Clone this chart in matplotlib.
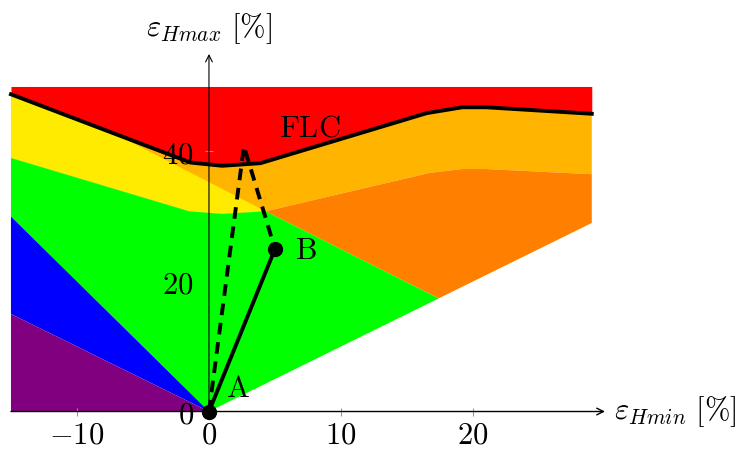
import matplotlib

matplotlib.use("Agg")

import matplotlib.pyplot as plt

plt.rcParams["mathtext.fontset"] = "cm"
plt.rcParams["font.family"] = "serif"
plt.rcParams["font.serif"] = ["DejaVu Serif"]

# forming limit curve
flc_x = [-15, -1.4, 1.0, 3.9, 16.5, 19.2, 21.0, 29]
flc_y = [48.8, 38.3, 37.8, 38.2, 45.9, 46.8, 46.8, 45.8]

# lower edge of the amber band (top of orange zone)
amber_low_x = [4.3, 16.7, 19.2, 21.0, 29]
amber_low_y = [30.8, 36.7, 37.3, 37.3, 36.5]

# top edge of the green (safe) zone
green_top_x = [-15, -1.5, 1.0, 4.3]
green_top_y = [39.0, 30.8, 30.4, 30.8]

# yellow zone: FLC part, then edge down to the green top
yellow_x = [-15, -7.5, 4.3]
yellow_y = [48.8, 43.1, 30.8]

# green / orange / white meeting point and right corner of orange zone
meet_x, meet_y = 17.4, 17.4
corner_x, corner_y = 29, 29

# wrinkle zones on the left edge
blue_top = 30
purple_top = 15

x_left, x_right, y_top = -15, 29, 50

# strain paths
path_x = [0, 5]
path_y = [0, 25]
dash_x = [0, 2.65, 5]
dash_y = [0, 40.8, 25]

x_ticks = [-10, 0, 10, 20]
y_ticks = [0, 20, 40]

RED = "#ff0000"
AMBER = "#ffb400"
YELLOW = "#ffeb00"
ORANGE = "#ff8000"
GREEN = "#00ff00"
BLUE = "#0000ff"
PURPLE = "#800080"

FS = 22


def main():
    fig = plt.figure(figsize=(7.49, 4.5), dpi=100)
    ax = fig.add_axes([0, 0, 1, 1])
    ax.set_xlim(-15.83, 40.91)
    ax.set_ylim(-5.92, 63.3)

    # red above the FLC
    ax.fill_between(flc_x, flc_y, y_top, color=RED, lw=0, zorder=1)

    # amber band below the FLC
    amber_poly_x = flc_x + amber_low_x[::-1] + green_top_x[::-1]
    amber_poly_y = flc_y + amber_low_y[::-1] + green_top_y[::-1]
    ax.fill(amber_poly_x, amber_poly_y, color=AMBER, lw=0, zorder=1)

    # yellow band on the left
    ax.fill(yellow_x + green_top_x[::-1], yellow_y + green_top_y[::-1],
            color=YELLOW, lw=0, zorder=1)

    # orange zone
    ax.fill(amber_low_x + [corner_x, meet_x], amber_low_y + [corner_y, meet_y],
            color=ORANGE, lw=0, zorder=1)

    # green safe zone
    ax.fill(green_top_x + [meet_x, 0, x_left],
            green_top_y + [meet_y, 0, blue_top],
            color=GREEN, lw=0, zorder=1)

    # wrinkling zones
    ax.fill([0, x_left, x_left], [0, blue_top, purple_top], color=BLUE, lw=0, zorder=1)
    ax.fill([0, x_left, x_left], [0, purple_top, 0], color=PURPLE, lw=0, zorder=1)

    # axes with arrows
    arrow = dict(arrowstyle="->", lw=1.0, color="black", shrinkA=0, shrinkB=0,
                 mutation_scale=12)
    ax.annotate("", xy=(30, 0), xytext=(x_left, 0), arrowprops=arrow, zorder=3)
    ax.annotate("", xy=(0, 55), xytext=(0, 0),
                arrowprops=dict(arrow, lw=0.8), zorder=3)

    for side in ["top", "right"]:
        ax.spines[side].set_visible(False)
    ax.spines["left"].set_position(("data", 0))
    ax.spines["bottom"].set_position(("data", 0))
    ax.spines["left"].set_visible(False)
    ax.spines["bottom"].set_visible(False)

    ax.set_xticks(x_ticks, labels=[f"${t}$" for t in x_ticks])
    ax.set_yticks(y_ticks, labels=[f"${t}$" for t in y_ticks])
    ax.tick_params(direction="inout", length=6, width=0.8, color="#999999",
                   labelsize=FS)
    ax.tick_params(axis="y", pad=8)
    ax.tick_params(axis="x", pad=2.5)

    # FLC and strain paths
    ax.plot(flc_x, flc_y, color="black", lw=2.8, zorder=4)
    ax.plot(dash_x, dash_y, color="black", lw=2.8, ls=(0, (3, 2)), zorder=4)
    ax.plot(path_x, path_y, color="black", lw=2.8, zorder=4,
            marker="o", markersize=10)

    ax.text(1.3, 3.6, r"$\mathrm{A}$", fontsize=FS, va="center", ha="left", zorder=5)
    ax.text(6.5, 24.8, r"$\mathrm{B}$", fontsize=FS, va="center", ha="left", zorder=5)
    ax.text(5.3, 43.6, r"$\mathrm{FLC}$", fontsize=FS, va="center", ha="left", zorder=5)

    ax.text(0, 58.9, r"$\varepsilon_{Hmax}\ [\%]$", fontsize=FS,
            ha="center", va="center")
    ax.text(30.7, 0, r"$\varepsilon_{Hmin}\ [\%]$", fontsize=FS,
            ha="left", va="center")

    fig.savefig("out.png", dpi=100)
    plt.close(fig)


if __name__ == "__main__":
    main()
